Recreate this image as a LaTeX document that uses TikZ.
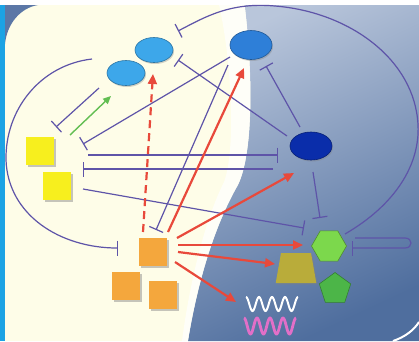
\documentclass[tikz,border=0pt]{standalone}
\usetikzlibrary{shapes.geometric, arrows.meta, positioning, calc, shadows}

\definecolor{cream}{HTML}{FEFDE8}
\definecolor{sidecyan}{HTML}{1CA3E4}
\definecolor{cornerblue}{HTML}{5B77A6}
\definecolor{skytop}{HTML}{B9C6DB}
\definecolor{skybottom}{HTML}{4F6E9E}
\definecolor{lightcell}{HTML}{3DA7EA}
\definecolor{midcell}{HTML}{2E7FD8}
\definecolor{darkcell}{HTML}{0A2DAA}
\definecolor{yel}{HTML}{F7EF1E}
\definecolor{ora}{HTML}{F4A73D}
\definecolor{hexgreen}{HTML}{7CD84C}
\definecolor{pentgreen}{HTML}{4CB548}
\definecolor{olivebox}{HTML}{B9AC3A}
\definecolor{inhib}{HTML}{5E54A8}
\definecolor{actred}{HTML}{E8493B}
\definecolor{actgreen}{HTML}{62BE52}
\definecolor{wavepink}{HTML}{E26FC8}

\begin{document}
\begin{tikzpicture}[x=1pt, y=-1pt,
    cell/.style={ellipse, inner sep=0pt, minimum width=38pt, minimum height=25pt,
        line width=0.6pt, drop shadow={shadow xshift=1pt, shadow yshift=-1.5pt, opacity=0.35}},
    box/.style={rectangle, inner sep=0pt, minimum size=28pt,
        drop shadow={shadow xshift=2pt, shadow yshift=-2pt, opacity=0.45}},
    inh/.style={color=inhib, line width=1.2pt, -{Bar[width=15pt]}},
    act/.style={color=actred, line width=2.2pt, -{Triangle[length=10pt, width=9pt]}}
    ]
    \useasboundingbox (0,0) rectangle (419,341);
    \fill[cream] (0,0) rectangle (419,341);
    \shade[top color=skytop, bottom color=skybottom, shading angle=25]
        (244,0) -- (419,0) -- (419,341) -- (188,341)
        .. controls (198,280) and (215,225) .. (238,185)
        .. controls (255,150) and (252,60) .. (244,0) -- cycle;
    \fill[white, opacity=0.7]
        (218,0) -- (244,0) .. controls (252,60) and (255,150) .. (238,185)
        .. controls (215,225) and (198,280) .. (188,341) -- (182,341)
        .. controls (190,280) and (205,220) .. (224,182)
        .. controls (236,150) and (232,60) .. (218,0) -- cycle;
    \draw[white, line width=2pt] (393,341) .. controls (405,337) and (414,330) .. (419,322);
    \fill[cornerblue] (5,5) -- (38,5) .. controls (20,8) and (7,24) .. (5,44) -- cycle;
    \fill[white] (0,0) rectangle (419,5);
    \fill[sidecyan] (0,5) rectangle (5,341);

    \node[cell, fill=lightcell, draw=lightcell!70!black] (top1) at (154,50) {};
    \node[cell, fill=lightcell, draw=lightcell!70!black] (top2) at (126,73) {};
    \node[cell, fill=midcell, draw=midcell!70!black, minimum width=42pt, minimum height=29pt] (top3) at (251,45) {};
    \node[cell, fill=darkcell, draw=darkcell!70!black, minimum width=42pt, minimum height=28pt] (hub) at (311,146) {};
    \node[box, fill=yel] (y1) at (40,151) {};
    \node[box, fill=yel] (y2) at (57,186) {};
    \node[box, fill=ora] (o1) at (153,252) {};
    \node[box, fill=ora] (o2) at (126,286) {};
    \node[box, fill=ora] (o3) at (163,295) {};
    \node[regular polygon, regular polygon sides=6, minimum size=35pt, inner sep=0pt,
        fill=hexgreen, draw=hexgreen!65!black, line width=0.6pt] (hex) at (329,246) {};
    \node[trapezium, trapezium angle=80, minimum width=28pt,
        minimum height=30pt, inner sep=0.5pt, fill=olivebox,
        drop shadow={shadow xshift=1.5pt, shadow yshift=-1.5pt, opacity=0.35}] (trap) at (296,268) {};
    \node[regular polygon, regular polygon sides=5, minimum size=33pt, inner sep=0pt,
        fill=pentgreen, draw=pentgreen!70!black, line width=0.6pt] (pent) at (335,289) {};
    \node[minimum width=58pt, minimum height=42pt, inner sep=0pt] (wave) at (272,315) {};
    \draw[white, line width=2pt]
        plot[domain=0:52, samples=120] ({246+\x}, {304-7*cos(27.692*\x)});
    \draw[wavepink, line width=2.8pt]
        plot[domain=0:52, samples=120] ({244+\x}, {326-8*cos(27.692*\x)});

    \path[inh]
        ($(top2)+(-27,15)$) edge ($(y1)+(16,-24)$)
        ($(top3)+(-21,12)$) edge ($(y1)+(43,-7)$)
        ($(hub)+(-24,-10)$) edge ($(top1)+(24,10)$)
        ($(hub)+(-11,-19)$) edge ($(top3)+(15,21)$)
        ($(top3)+(-23,20)$) edge ($(o1)+(3,-22)$)
        ($(y1)+(48,4)$) edge ($(hub)+(-33,9)$)
        ($(hub)+(-38,23)$) edge ($(y1)+(43,18)$)
        ($(y2)+(26,3)$) edge ($(hex)+(-25,-18)$)
        ($(hub)+(2,26)$) edge ($(hex)+(-9,-28)$);
    \draw[inh] ($(hex)+(16,-12)$) .. controls (395,205) and (420,165) .. (418,125)
        .. controls (415,60) and (350,12) .. (275,6)
        .. controls (230,2) and (205,17) .. ($(top1)+(24,-19)$);
    \draw[inh] ($(top2)+(-34,-14)$) .. controls (40,65) and (5,110) .. (6,160)
        .. controls (8,215) and (60,248) .. ($(o1)+(-35,-4)$);
    \draw[inh] ($(hex)+(26,-8)$) -- ($(hex)+(76,-8)$)
        .. controls +(8,0) and +(8,0) .. ($(hex)+(76,2)$) -- ($(hex)+(23,2)$);

    \draw[actgreen, line width=1.4pt, -{Triangle[length=8pt, width=7pt]}]
        ($(y1)+(30,-16)$) -- ($(top2)+(-15,23)$);
    \draw[act, dash pattern=on 8pt off 5pt] ($(o1)+(-10,-20)$) -- ($(top1)+(-1,24)$);
    \path[act]
        ($(o1)+(15,-20)$) edge ($(top3)+(-7,23)$)
        ($(o1)+(24,-14)$) edge ($(hub)+(-17,27)$)
        ($(o1)+(25,-7)$) edge ($(hex)+(-26,-1)$)
        ($(o1)+(25,0)$) edge ($(trap)+(-21,-4)$)
        ($(o1)+(22,10)$) edge ($(wave)+(-36,-13)$);
\end{tikzpicture}
\end{document}
